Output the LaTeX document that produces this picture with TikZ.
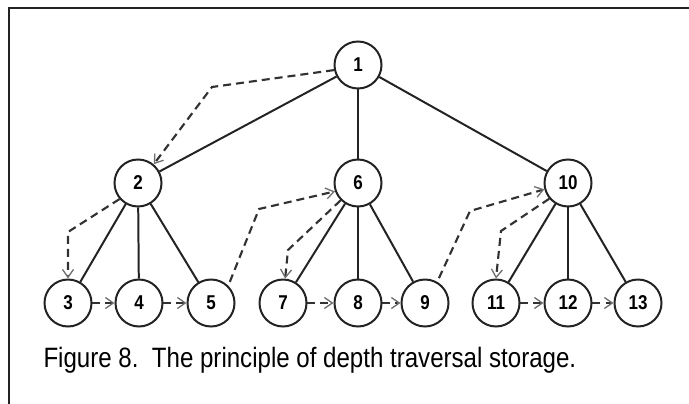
\documentclass[tikz,border=0pt]{standalone}
\usepackage{fontspec}
\setmainfont{Liberation Sans}
\usetikzlibrary{arrows.meta}
\definecolor{linegray}{RGB}{35,35,35}
\definecolor{dashgray}{RGB}{50,50,50}
\definecolor{tipgray}{RGB}{110,110,110}
\tikzstyle{vertex} = [circle, draw=linegray, line width=0.7mm,
                      minimum size=47pt, inner sep=0pt,
                      font=\bfseries\fontsize{20}{20}\selectfont]
\tikzstyle{edge} = [draw=linegray, line width=0.7mm]
\tikzstyle{visit} = [draw=dashgray, line width=0.75mm,
                     dash pattern=on 8pt off 5pt,
                     -{Straight Barb[length=8pt,width=11pt,line width=1.3pt,color=tipgray]}]
\newcommand{\num}[1]{\scalebox{0.85}[1]{#1}}
\begin{document}
\begin{tikzpicture}[x=1pt,y=-1pt]
        \useasboundingbox (0,0) rectangle (689,404);
        \draw [line width=0.7mm, draw=linegray] (689,8) -- (9,8) -- (9,404);

        % tree
        \node (n1) [vertex] at (358,65) {\num{1}};
        \node (n2) [vertex] at (138,183) {\num{2}};
        \node (n6) [vertex] at (358,183) {\num{6}};
        \node (n10) [vertex] at (568,183) {\num{10}};
        \node (n3) [vertex] at (68,303) {\num{3}};
        \node (n4) [vertex] at (139,303) {\num{4}};
        \node (n5) [vertex] at (211,303) {\num{5}};
        \node (n7) [vertex] at (283,303) {\num{7}};
        \node (n8) [vertex] at (358,303) {\num{8}};
        \node (n9) [vertex] at (425,303) {\num{9}};
        \node (n11) [vertex] at (496,303) {\num{11}};
        \node (n12) [vertex] at (568,303) {\num{12}};
        \node (n13) [vertex] at (638,303) {\num{13}};

        \draw [edge] (n1) -- (n2);
        \draw [edge] (n1) -- (n6);
        \draw [edge] (n1) -- (n10);
        \draw [edge] (n2) -- (n3);
        \draw [edge] (n2) -- (n4);
        \draw [edge] (n2) -- (n5);
        \draw [edge] (n6) -- (n7);
        \draw [edge] (n6) -- (n8);
        \draw [edge] (n6) -- (n9);
        \draw [edge] (n10) -- (n11);
        \draw [edge] (n10) -- (n12);
        \draw [edge] (n10) -- (n13);

        % depth traversal order
        \draw [visit] (n1.192) -- (212,87) -- (n2.50);
        \draw [visit] (n2.221) -- (68,232) -- (n3.north);
        \draw [visit] (n3) -- (n4);
        \draw [visit] (n4) -- (n5);
        \draw [visit, shorten <=4pt] (n5.45) -- (259,209) -- (n6.200);
        \draw [visit] (n6.225) -- (288,250) -- (n7.85);
        \draw [visit] (n7) -- (n8);
        \draw [visit] (n8) -- (n9);
        \draw [visit, shorten <=4pt] (n9.60) -- (470,211) -- (n10.195);
        \draw [visit] (n10.220) -- (501,231) -- (n11.north);
        \draw [visit] (n11) -- (n12);
        \draw [visit] (n12) -- (n13);

        \node (caption) [anchor=base west, font=\fontsize{28}{32}\selectfont] at (40,367)
              {\scalebox{0.86}[1]{Figure 8.\ \ The principle of depth traversal storage.}};
\end{tikzpicture}
\end{document}
